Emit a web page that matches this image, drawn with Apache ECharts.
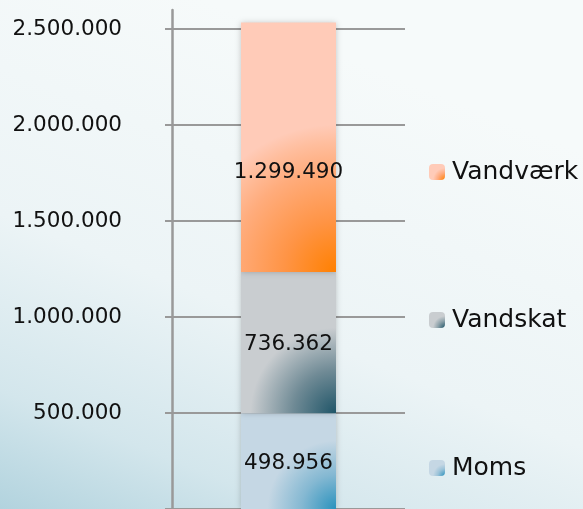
<!DOCTYPE html>
<html>
<head>
<meta charset="utf-8">
<script src="https://cdn.jsdelivr.net/npm/echarts@6/dist/echarts.min.js"></script>
<style>html,body{margin:0;padding:0;background:#fff}#c{width:583px;height:509px}</style>
</head>
<body>
<div id="c"></div>
<script>
const categories = ['Total'];
const seriesNames = ['Moms', 'Vandskat', 'Vandværk'];
const moms = [498956];
const vandskat = [736362];
const vandvaerk = [1299490];
const yTicks = [0, 500000, 1000000, 1500000, 2000000, 2500000];
const yAxisTop = 2600000;

const FONT = 'DejaVu Sans';
function fmt(v) { return String(v).replace(/\B(?=(\d{3})+(?!\d))/g, '.'); }
function radial(r, stops) {
  return { type: 'radial', x: 1, y: 1, r: r, colorStops: stops.map(c => ({ offset: c[0], color: c[1] })) };
}
const grads = {
  'Moms': radial(0.72, [[0, '#2a92bd'], [0.5, '#84b8d2'], [1, '#c5d7e4']]),
  'Vandskat': radial(0.9, [[0, '#1f5568'], [0.5, '#6f8a95'], [1, '#c9cdd0']]),
  'Vandværk': radial(1.55, [[0, '#ff8000'], [0.35, '#ff9445'], [0.7, '#ffac7c'], [0.88, '#ffbe9e'], [1, '#ffcbb8']])
};
const iconGrads = {
  'Moms': radial(0.75, [[0, '#2a92bd'], [0.6, '#9cc3d9'], [1, '#c5d7e4']]),
  'Vandskat': radial(0.75, [[0, '#1f5568'], [0.6, '#8fa3ab'], [1, '#c9cdd0']]),
  'Vandværk': radial(0.75, [[0, '#ff8000'], [0.6, '#ffac80'], [1, '#ffcbb8']])
};
const values = { 'Moms': moms, 'Vandskat': vandskat, 'Vandværk': vandvaerk };
const labelOffsets = { 'Moms': [0, 2], 'Vandskat': [0, 2], 'Vandværk': [0, 25] };
const legendTops = { 'Vandværk': 158, 'Vandskat': 306, 'Moms': 454 };

const chart = echarts.init(document.getElementById('c'), null, { renderer: 'canvas' });
const option = {
  animation: false,
  backgroundColor: { type: 'linear', x: 0.35, y: 0, x2: 0, y2: 1, colorStops: [
    { offset: 0, color: '#f6fafa' }, { offset: 0.5, color: '#ecf4f6' }, { offset: 0.8, color: '#d3e6ec' }, { offset: 1, color: '#b2d3de' }] },
  textStyle: { fontFamily: FONT },
  grid: [
    { left: 172, right: 178, top: 10, bottom: 0, outerBoundsMode: 'none', containLabel: false },
    { left: 165, right: 178, top: 29, bottom: 0, outerBoundsMode: 'none', containLabel: false }
  ],
  legend: seriesNames.slice().reverse().map(n => ({
    data: [{ name: n, itemStyle: { color: iconGrads[n] } }],
    left: 429, top: legendTops[n], itemWidth: 16, itemHeight: 16, itemGap: 0,
    selectedMode: false,
    textStyle: { fontFamily: FONT, fontSize: 25, color: '#111', lineHeight: 28, padding: [0, 0, 0, 2] },
    padding: 0
  })),
  xAxis: [
    { type: 'category', data: categories, gridIndex: 0, show: false },
    { type: 'category', data: categories, gridIndex: 1, show: false }
  ],
  yAxis: [
    { type: 'value', gridIndex: 0, min: yTicks[0], max: yAxisTop, interval: yTicks[1] - yTicks[0],
      axisLine: { show: true, lineStyle: { color: '#999', width: 2.5 } },
      axisTick: { show: false },
      splitLine: { show: false },
      axisLabel: { margin: 50, color: '#111', fontFamily: FONT, fontSize: 21.5, showMaxLabel: false, showMinLabel: false,
        formatter: v => (v > 0 && yTicks.indexOf(v) >= 0 ? fmt(v) : '') } },
    { type: 'value', gridIndex: 1, min: yTicks[0], max: yTicks[yTicks.length - 1], interval: yTicks[1] - yTicks[0],
      axisLine: { show: false }, axisTick: { show: false }, axisLabel: { show: false },
      splitLine: { show: true, lineStyle: { color: '#999', width: 2 } } }
  ],
  series: seriesNames.map(n => ({
    name: n, type: 'bar', stack: 'total', barWidth: 95,
    xAxisIndex: 0, yAxisIndex: 0,
    data: values[n],
    itemStyle: { color: grads[n], shadowBlur: 6, shadowColor: 'rgba(0,0,0,0.22)' },
    label: { show: true, position: 'inside', offset: labelOffsets[n], color: '#111', fontFamily: FONT, fontSize: 21.5, formatter: p => fmt(p.value) }
  }))
};
chart.setOption(option);
</script>
</body>
</html>
